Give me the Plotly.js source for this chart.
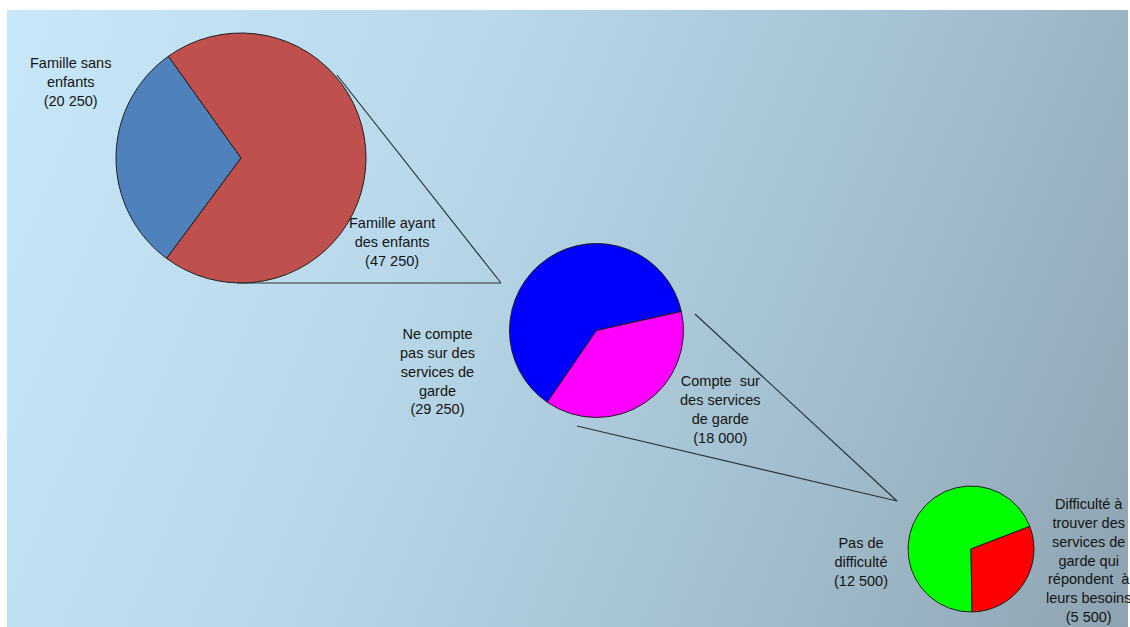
<!DOCTYPE html>
<html>
<head>
<meta charset="utf-8">
<script src="https://cdn.plot.ly/plotly-3.0.1.min.js"></script>
<style>
  html, body { margin: 0; padding: 0; background: #ffffff; }
  #bg { position: absolute; left: 7px; top: 10px; width: 1121px; height: 617px;
        background: linear-gradient(112deg, #c8e8fa 0%, #b9d9eb 35%, #a3bfcf 70%, #8ea3b2 100%); }
  #chart { position: absolute; left: 0; top: 0; width: 1130px; height: 627px; }
</style>
</head>
<body>
<div id="bg"></div>
<div id="chart"></div>
<script>
// ---- Data ----
const familyLabels = ['Famille sans enfants', 'Famille ayant des enfants'];
const familyValues = [20250, 47250];
const familyColors = ['#4f81bd', '#c0504d'];

const careLabels = ['Ne compte pas sur des services de garde', 'Compte sur des services de garde'];
const careValues = [29250, 18000];
const careColors = ['#0000ff', '#ff00ff'];

const diffLabels = ['Pas de difficulté', 'Difficulté à trouver des services de garde qui répondent à leurs besoins'];
const diffValues = [12500, 5500];
const diffColors = ['#00ff00', '#ff0000'];

// label text lines (as broken in the original)
const familyText = [['Famille sans', 'enfants'], ['Famille ayant', 'des enfants']];
const careText = [['Ne compte', 'pas sur des', 'services de', 'garde'], ['Compte  sur', 'des services', 'de garde']];
const diffText = [['Pas de', 'difficulté'], ['Difficulté à', 'trouver des', 'services de', 'garde qui', 'répondent  à', 'leurs besoins']];

// ---- Layout helpers ----
const W = 1130, H = 627;
const px = x => x / W;
const py = y => 1 - y / H;
function domainFor(cx, cy, r) {
  return { x: [px(cx - r), px(cx + r)], y: [py(cy + r), py(cy - r)] };
}
function fmt(v) {
  return String(v).replace(/\B(?=(\d{3})+(?!\d))/g, ' ');
}
function label(lines, v) {
  return lines.concat(['(' + fmt(v) + ')']).join('<br>');
}

const outline = { color: '#1e1e1e', width: 1 };
function pieTrace(labels, values, colors, dom, rotation) {
  return {
    type: 'pie', labels: labels, values: values, sort: false,
    direction: 'counterclockwise', rotation: rotation,
    marker: { colors: colors, line: outline },
    textinfo: 'none', hoverinfo: 'label+value', showlegend: false,
    domain: dom
  };
}

const traces = [
  pieTrace(familyLabels, familyValues, familyColors, domainFor(241, 158, 125), 216.5),
  pieTrace(careLabels, careValues, careColors, domainFor(596.5, 330.5, 87), 214.5),
  pieTrace(diffLabels, diffValues, diffColors, domainFor(971, 549, 63), 179)
];

const font = { family: 'Liberation Sans, Arial, sans-serif', size: 14.5, color: '#141414' };
function ann(text, x, y) {
  return { text: text, x: px(x), y: py(y), xref: 'paper', yref: 'paper',
           xanchor: 'center', yanchor: 'middle', showarrow: false, align: 'center', font: font };
}
const annotations = [
  ann(label(familyText[0], familyValues[0]), 70, 82),
  ann(label(familyText[1], familyValues[1]), 392, 242),
  ann(label(careText[0], careValues[0]), 437, 371),
  ann(label(careText[1], careValues[1]), 720, 409),
  ann(label(diffText[0], diffValues[0]), 861, 562),
  ann(label(diffText[1], diffValues[1]), 1088, 560)
];

function seg(x0, y0, x1, y1) {
  return { type: 'line', xref: 'paper', yref: 'paper',
           x0: px(x0), y0: py(y0), x1: px(x1), y1: py(y1),
           line: { color: '#2c3338', width: 1.2 } };
}
const shapes = [
  seg(337, 75, 501, 283),
  seg(237, 283, 501, 283),
  seg(695, 314, 897, 501),
  seg(577, 426, 897, 501)
];

Plotly.newPlot('chart', traces, {
  width: W, height: H,
  margin: { l: 0, r: 0, t: 0, b: 0 },
  paper_bgcolor: 'rgba(0,0,0,0)',
  plot_bgcolor: 'rgba(0,0,0,0)',
  showlegend: false,
  annotations: annotations,
  shapes: shapes
}, { displayModeBar: false, staticPlot: true });
</script>
</body>
</html>
